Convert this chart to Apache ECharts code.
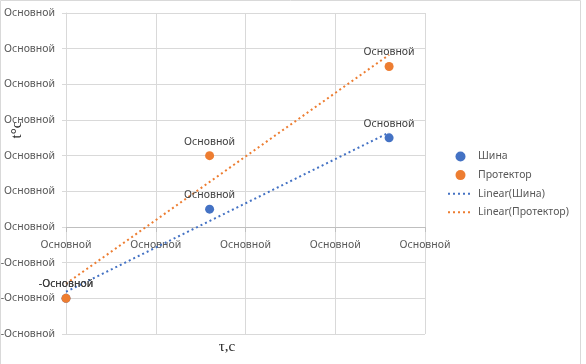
<!DOCTYPE html>
<html>
<head>
<meta charset="utf-8">
<script src="https://cdn.jsdelivr.net/npm/echarts@6/dist/echarts.min.js"></script>
<style>
  html, body { margin: 0; padding: 0; background: #fff; }
  #chart { width: 586px; height: 364px; }
</style>
</head>
<body>
<div id="chart"></div>
<script>
// точки (время, температура)
var shinaX = [0, 1.6, 3.6];
var shinaY = [-2, 0.5, 2.5];
var protektorX = [0, 1.6, 3.6];
var protektorY = [-2, 2, 4.5];
var seriesNames = ['Шина', 'Протектор', 'Linear(Шина)', 'Linear(Протектор)'];
var labelText = 'Основной';

function pairs(xs, ys) {
  return xs.map(function (x, i) { return [x, ys[i]]; });
}
// линейный тренд, как в Excel
function trend(xs, ys) {
  var n = xs.length, mx = 0, my = 0;
  for (var i = 0; i < n; i++) { mx += xs[i] / n; my += ys[i] / n; }
  var sxx = 0, sxy = 0;
  for (var j = 0; j < n; j++) {
    sxx += (xs[j] - mx) * (xs[j] - mx);
    sxy += (xs[j] - mx) * (ys[j] - my);
  }
  var k = sxy / sxx, b = my - k * mx;
  var x0 = Math.min.apply(null, xs), x1 = Math.max.apply(null, xs);
  return [[x0, k * x0 + b], [x1, k * x1 + b]];
}
function fmt(v) { return v < 0 ? '-' + labelText : labelText; }

var font = 'Noto Sans';
var fs = 10.5;
var myChart = echarts.init(document.getElementById('chart'));
var pointLabel = {
  show: true,
  position: 'top',
  distance: 4,
  color: '#404040',
  fontFamily: font,
  fontSize: fs,
  formatter: function (p) { return fmt(p.value[1]); }
};
var option = {
  animation: false,
  grid: { left: 66, right: 161, top: 13, bottom: 30, outerBoundsMode: 'none' },
  legend: {
    orient: 'vertical',
    left: 442,
    top: 146,
    itemWidth: 25,
    itemHeight: 10,
    itemGap: 7.6,
    textStyle: { color: '#595959', fontFamily: font, fontSize: fs },
    data: [
      { name: seriesNames[0], icon: 'circle' },
      { name: seriesNames[1], icon: 'circle' },
      { name: seriesNames[2], itemStyle: { opacity: 0 } },
      { name: seriesNames[3], itemStyle: { opacity: 0 } }
    ]
  },
  xAxis: {
    type: 'value',
    min: 0,
    max: 4,
    interval: 1,
    // ось X проходит через ноль шкалы Y (3 деления из 9 от низа)
    offset: -107,
    axisLine: { onZero: false, lineStyle: { color: '#bfbfbf' } },
    axisTick: { show: true, length: 5, inside: false, lineStyle: { color: '#bfbfbf' } },
    axisLabel: { color: '#595959', fontFamily: font, fontSize: fs, margin: 13, formatter: fmt },
    splitLine: { show: true, lineStyle: { color: '#d9d9d9' } }
  },
  yAxis: {
    type: 'value',
    min: -3,
    max: 6,
    interval: 1,
    axisLine: { show: true, onZero: true, lineStyle: { color: '#d9d9d9' } },
    axisTick: { show: true, length: 4, lineStyle: { color: '#d9d9d9' } },
    axisLabel: { color: '#595959', fontFamily: font, fontSize: fs, margin: 11, formatter: fmt },
    splitLine: { show: true, lineStyle: { color: '#d9d9d9' } }
  },
  graphic: [
    {
      type: 'rect',
      shape: { x: 0.5, y: 0.5, width: 580, height: 380 },
      style: { fill: null, stroke: '#d9d9d9', lineWidth: 1 },
      silent: true
    },
    {
      type: 'text',
      x: 17,
      y: 130,
      rotation: Math.PI / 2,
      style: {
        text: 't°c',
        fill: '#262626',
        font: '15px "Liberation Serif"',
        align: 'center',
        verticalAlign: 'middle'
      }
    },
    {
      type: 'text',
      x: 227,
      y: 347,
      style: {
        text: 'τ,c',
        fill: '#262626',
        font: '15px "Liberation Serif"',
        align: 'center',
        verticalAlign: 'middle'
      }
    }
  ],
  series: [
    {
      name: seriesNames[0],
      type: 'scatter',
      symbolSize: 9,
      itemStyle: { color: '#4472c4', opacity: 1 },
      label: pointLabel,
      data: pairs(shinaX, shinaY),
      z: 3
    },
    {
      name: seriesNames[1],
      type: 'scatter',
      symbolSize: 9,
      itemStyle: { color: '#ed7d31', opacity: 1 },
      label: pointLabel,
      data: pairs(protektorX, protektorY),
      z: 3
    },
    {
      name: seriesNames[2],
      type: 'line',
      symbol: 'none',
      itemStyle: { color: '#4472c4' },
      lineStyle: { color: '#4472c4', width: 2, type: [2, 3] },
      data: trend(shinaX, shinaY),
      z: 2
    },
    {
      name: seriesNames[3],
      type: 'line',
      symbol: 'none',
      itemStyle: { color: '#ed7d31' },
      lineStyle: { color: '#ed7d31', width: 2, type: [2, 3] },
      data: trend(protektorX, protektorY),
      z: 2
    }
  ]
};
myChart.setOption(option);
</script>
</body>
</html>
